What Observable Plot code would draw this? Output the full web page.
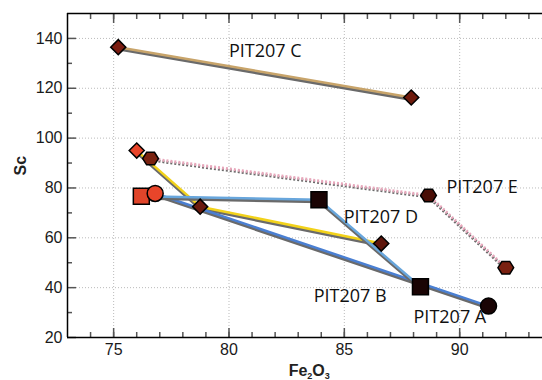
<!DOCTYPE html>
<html>
<head>
<meta charset="utf-8">
<script src="https://cdn.jsdelivr.net/npm/d3@7"></script>
<script src="https://cdn.jsdelivr.net/npm/@observablehq/plot@0.6"></script>
<style>
  html, body { margin: 0; padding: 0; background: #fff; }
  #chart svg { display: block; }
</style>
</head>
<body>
<div id="chart"></div>
<script>
// ---- data ----
const cFe = [75.2, 87.9];
const cSc = [136.5, 116.3];
const cFill = ["#7a1c10", "#6e1a0c"];

const dFe = [76.0, 78.75, 86.6];
const dSc = [95.0, 72.5, 57.7];
const dFill = ["#e8452a", "#6a1a0e", "#5e160c"];

const eFe = [76.6, 88.65, 92.0];
const eSc = [91.8, 77.0, 48.0];
const eFill = ["#7a2210", "#4a0e06", "#7a2010"];

const bFe = [76.2, 83.9, 88.3];
const bSc = [76.7, 75.3, 40.4];
const bFill = ["#e0452a", "#1a0404", "#1a0404"];

const aFe = [76.8, 91.25];
const aSc = [77.8, 32.6];
const aFill = ["#e8452a", "#1a0505"];

const labelText = ["PIT207 C", "PIT207 E", "PIT207 D", "PIT207 B", "PIT207 A"];
const labelFe = [80.0, 89.43, 84.97, 83.67, 88.0];
const labelSc = [134.8, 80.2, 68.1, 36.4, 28.0];

const xMajor = [75, 80, 85, 90];
const xMinor = d3.range(74, 94);
const yMajor = [20, 40, 60, 80, 100, 120, 140];
const yMinor = [30, 50, 70, 90, 110, 130];

const pts = (fe, sc, fill) => fe.map((f, i) => ({fe: f, sc: sc[i], fill: fill[i]}));
const C = pts(cFe, cSc, cFill);
const D = pts(dFe, dSc, dFill);
const E = pts(eFe, eSc, eFill);
const B = pts(bFe, bSc, bFill);
const A = pts(aFe, aSc, aFill);
const labels = labelText.map((t, i) => ({t, fe: labelFe[i], sc: labelSc[i]}));

// flat-topped hexagon symbol
const hexFlat = {
  draw(context, size) {
    const r = Math.sqrt(size / Math.PI) * 1.05;
    for (let k = 0; k < 6; k++) {
      const a = Math.PI / 3 * k;
      const px = r * Math.cos(a), py = r * Math.sin(a) * 0.92;
      if (k === 0) context.moveTo(px, py); else context.lineTo(px, py);
    }
    context.closePath();
  }
};

const shadow = (data, extra = {}) => Plot.line(data, {x: "fe", y: "sc", dy: 2, stroke: "#6a6a6a", strokeWidth: 3, ...extra});
const line = (data, color, extra = {}) => Plot.line(data, {x: "fe", y: "sc", stroke: color, strokeWidth: 2.5, ...extra});

const tickStyle = {stroke: "#555", strokeWidth: 1.5, label: null};

const chart = Plot.plot({
  width: 542,
  height: 380,
  marginLeft: 67,
  marginRight: 0,
  marginTop: 13,
  marginBottom: 43,
  style: {fontFamily: "Liberation Sans, Arial, sans-serif", background: "#fff"},
  x: {domain: [73, 93.59], axis: null, label: null},
  y: {domain: [20, 150], axis: null, label: null},
  marks: [
    Plot.gridX(xMajor, {stroke: "#aaa", strokeOpacity: 0.8, strokeDasharray: "1,2"}),
    Plot.gridY(yMajor.filter(v => v > 20), {stroke: "#aaa", strokeOpacity: 0.8, strokeDasharray: "1,2"}),

    // ticks (inward)
    Plot.axisX({anchor: "bottom", ticks: xMinor, tickSize: 5, dy: -5, tickFormat: () => "", ...tickStyle}),
    Plot.axisX({anchor: "bottom", ticks: xMajor, tickSize: 9, dy: -9, tickFormat: () => "", ...tickStyle}),
    Plot.axisX({anchor: "top", ticks: xMinor, tickSize: 5, dy: 5, tickFormat: () => "", ...tickStyle}),
    Plot.axisX({anchor: "top", ticks: xMajor, tickSize: 9, dy: 9, tickFormat: () => "", ...tickStyle}),
    Plot.axisY({anchor: "left", ticks: yMinor, tickSize: 5, dx: 5, tickFormat: () => "", ...tickStyle}),
    Plot.axisY({anchor: "left", ticks: yMajor, tickSize: 9, dx: 9, tickFormat: () => "", ...tickStyle}),

    // tick labels
    Plot.axisX({anchor: "bottom", ticks: xMajor, tickSize: 0, tickPadding: 6, fontSize: 16, fill: "#1a1a1a", label: null}),
    Plot.axisY({anchor: "left", ticks: yMajor, tickSize: 0, tickPadding: 5, fontSize: 16, fill: "#1a1a1a", label: null}),

    // frame (no right edge visible)
    Plot.ruleX([73], {stroke: "#000", strokeWidth: 1.5}),
    Plot.ruleY([20, 150], {stroke: "#000", strokeWidth: 1.5}),

    // lines with grey shadows
    shadow(C), line(C, "#c8a46a"),
    shadow(E, {strokeDasharray: "2,2", strokeWidth: 3, dy: 1.5, strokeLinecap: "butt"}),
    line(E, "#e8a8bc", {strokeDasharray: "2,2", strokeWidth: 3, strokeLinecap: "butt"}),
    shadow(D), line(D, "#f2d21a"),
    shadow(A), line(A, "#4a7fd2"),
    shadow(B), line(B, "#68a6dc"),

    // markers
    Plot.dot(B, {x: "fe", y: "sc", symbol: "square", r: 9, fill: "fill", stroke: "#000", strokeWidth: 1.5}),
    Plot.dot(A, {x: "fe", y: "sc", symbol: "circle", r: 8, fill: "fill", stroke: "#000", strokeWidth: 1.5}),
    Plot.dot(C, {x: "fe", y: "sc", symbol: "diamond2", r: 6.8, fill: "fill", stroke: "#000", strokeWidth: 1.5}),
    Plot.dot(D, {x: "fe", y: "sc", symbol: "diamond2", r: 6.8, fill: "fill", stroke: "#000", strokeWidth: 1.5}),
    Plot.dot(E, {x: "fe", y: "sc", symbol: hexFlat, r: 7.5, fill: "fill", stroke: "#000", strokeWidth: 1.5}),

    // series labels
    Plot.text(labels, {x: "fe", y: "sc", text: "t", textAnchor: "start", lineAnchor: "middle",
      fontSize: 18, fill: "#111", fontFamily: "Open Sans, Lato, sans-serif"}),

    // y axis title
    Plot.text(["Sc"], {frameAnchor: "left", dx: -47, rotate: -90, fontSize: 16, fontWeight: "bold", fill: "#222"})
  ]
});

// x axis title with subscripts
const xs = chart.scale("x");
const svg = d3.select(chart);
const t = svg.append("text")
  .attr("x", xs.apply(83.5))
  .attr("y", 376)
  .attr("text-anchor", "middle")
  .attr("font-family", "Liberation Sans, Arial, sans-serif")
  .attr("font-weight", "bold")
  .attr("font-size", 16)
  .attr("fill", "#222");
t.append("tspan").text("Fe");
t.append("tspan").attr("font-size", 9).attr("dy", 3).text("2");
t.append("tspan").attr("dy", -3).text("O");
t.append("tspan").attr("font-size", 9).attr("dy", 3).text("3");

document.getElementById("chart").appendChild(chart);
</script>
</body>
</html>
